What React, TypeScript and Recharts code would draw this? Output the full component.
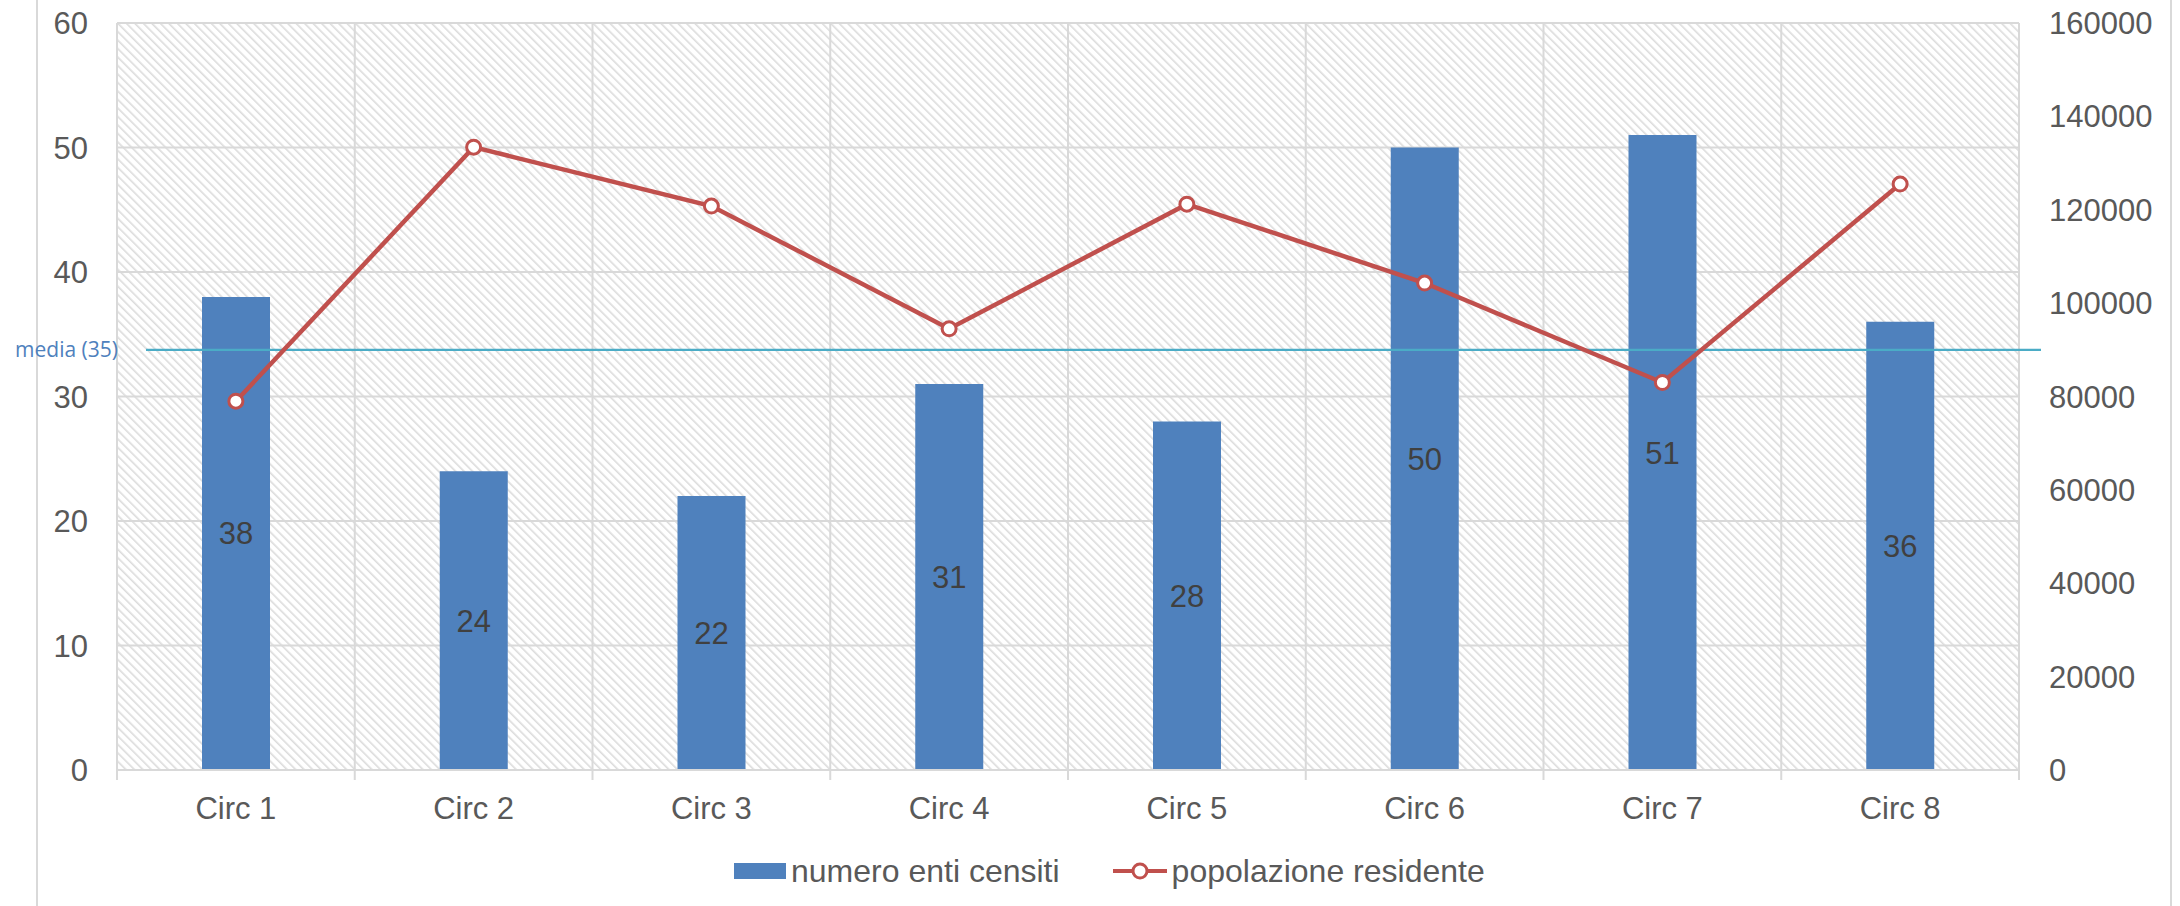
import React from 'react';
import {
  ComposedChart, Bar, Line, XAxis, YAxis, CartesianGrid, Legend, LabelList, ReferenceLine,
} from 'recharts';

const categories = ['Circ 1', 'Circ 2', 'Circ 3', 'Circ 4', 'Circ 5', 'Circ 6', 'Circ 7', 'Circ 8'];
const entiCensiti = [38, 24, 22, 31, 28, 50, 51, 36];
const popolazione = [79000, 133400, 120800, 94500, 121200, 104300, 83000, 125500];
const leftTicks = [0, 10, 20, 30, 40, 50, 60];
const rightTicks = [0, 20000, 40000, 60000, 80000, 100000, 120000, 140000, 160000];
// the "media" line sits on the right axis at this value in the original
const mediaValue = 90000;
const mediaLabel = 'media (35)';

const W = 2180;
const H = 906;
const LEFT_W = 117;
const RIGHT_W = 161;
const TOP = 23;
const XAXIS_H = 66;
const LEGEND_H = 70;
const PLOT_W = W - LEFT_W - RIGHT_W;
const BAND = PLOT_W / categories.length;

const BLUE = '#4F81BD';
const RED = '#C0504D';
const GRID = '#d9d9d9';
const TEXT = '#595959';
const FONT = '"Liberation Sans", Arial, sans-serif';

const data = categories.map((name, i) => ({
  name,
  enti: entiCensiti[i],
  pop: popolazione[i],
}));

const XTick = (props: any) => {
  const { x, y, payload, index } = props;
  const axisY = y - 27;
  return (
    <g>
      <line x1={x - BAND / 2} x2={x - BAND / 2} y1={axisY} y2={axisY + 10} stroke={GRID} strokeWidth={2} />
      {index === categories.length - 1 && (
        <line x1={x + BAND / 2} x2={x + BAND / 2} y1={axisY} y2={axisY + 10} stroke={GRID} strokeWidth={2} />
      )}
      <text x={x} y={y} dy="0.71em" textAnchor="middle" fill={TEXT} fontSize={31} fontFamily={FONT}>
        {payload.value}
      </text>
    </g>
  );
};

// line runs a bit inside the plot on the left and past it on the right, label sits left of it
const MediaShape = (props: any) => {
  const left = Math.min(props.x1, props.x2);
  const right = Math.max(props.x1, props.x2);
  const y = props.y1;
  return (
    <g>
      <line x1={left + 29} x2={right + 22} y1={y} y2={y} stroke="#4BACC6" strokeWidth={2.2} />
      <text x={left + 1} y={y} dy="0.35em" textAnchor="end" fill={BLUE} fontSize={21}
        fontFamily='"Open Sans", sans-serif'>
        {mediaLabel}
      </text>
    </g>
  );
};

const LegendBox = () => (
  <div style={{
    height: LEGEND_H, display: 'flex', alignItems: 'center', paddingLeft: 734,
    fontFamily: FONT, fontSize: 32, color: TEXT,
  }}>
    <span style={{ display: 'inline-block', width: 52, height: 16, background: BLUE }} />
    <span style={{ marginLeft: 5 }}>numero enti censiti</span>
    <svg width={54} height={20} style={{ marginLeft: 53 }}>
      <line x1={0} x2={54} y1={10} y2={10} stroke={RED} strokeWidth={4} />
      <circle cx={27} cy={10} r={7} fill="#fff" stroke={RED} strokeWidth={3} />
    </svg>
    <span style={{ marginLeft: 5 }}>popolazione residente</span>
  </div>
);

export default function App() {
  return (
    <div style={{ position: 'absolute', left: 0, top: 0, width: W, height: H, background: '#fff' }}>
      <div style={{ position: 'absolute', left: 36, top: 0, width: 2, height: H, background: GRID }} />
      <div style={{ position: 'absolute', left: 2170, top: 0, width: 2, height: H, background: GRID }} />
      <ComposedChart
        width={W}
        height={H}
        data={data}
        margin={{ top: TOP, right: 0, bottom: 0, left: 0 }}
        barSize={68}
        style={{ position: 'absolute', left: 0, top: 0 }}
      >
        <defs>
          <pattern id="hatch" patternUnits="userSpaceOnUse" width={6} height={6} patternTransform="rotate(-45)">
            <rect x={0} y={0} width={6} height={6} fill="#ffffff" />
            <rect x={0} y={0} width={1.6} height={6} fill="#dcdcdc" />
          </pattern>
        </defs>
        <CartesianGrid
          yAxisId="left"
          stroke={GRID}
          strokeWidth={2}
          fill="url(#hatch)"
          fillOpacity={1}
          verticalCoordinatesGenerator={({ offset }: any) =>
            categories.map((_, i) => offset.left + i * (offset.width / categories.length))
              .concat([offset.left + offset.width])}
        />
        <XAxis
          dataKey="name"
          height={XAXIS_H}
          axisLine={{ stroke: GRID, strokeWidth: 2 }}
          tickLine={false}
          tickSize={0}
          tickMargin={27}
          tick={<XTick />}
          interval={0}
        />
        <YAxis
          yAxisId="left"
          orientation="left"
          width={LEFT_W}
          domain={[0, 60]}
          ticks={leftTicks}
          axisLine={false}
          tickLine={false}
          tickSize={0}
          tickMargin={29}
          tick={{ fill: TEXT, fontSize: 31, fontFamily: FONT }}
        />
        <YAxis
          yAxisId="right"
          orientation="right"
          width={RIGHT_W}
          domain={[0, 160000]}
          ticks={rightTicks}
          axisLine={false}
          tickLine={false}
          tickSize={0}
          tickMargin={30}
          tick={{ fill: TEXT, fontSize: 31, fontFamily: FONT, textAnchor: 'start' }}
        />
        <Legend verticalAlign="bottom" height={LEGEND_H} content={<LegendBox />} />
        <Bar yAxisId="left" dataKey="enti" name="numero enti censiti" fill={BLUE} isAnimationActive={false}>
          <LabelList dataKey="enti" position="center" fill="#404040" fontSize={31} fontFamily={FONT} />
        </Bar>
        <ReferenceLine yAxisId="right" y={mediaValue} shape={<MediaShape />} />
        <Line
          yAxisId="right"
          dataKey="pop"
          name="popolazione residente"
          stroke={RED}
          strokeWidth={4.5}
          dot={{ r: 7, fill: '#fff', stroke: RED, strokeWidth: 3 }}
          isAnimationActive={false}
        />
      </ComposedChart>
    </div>
  );
}
